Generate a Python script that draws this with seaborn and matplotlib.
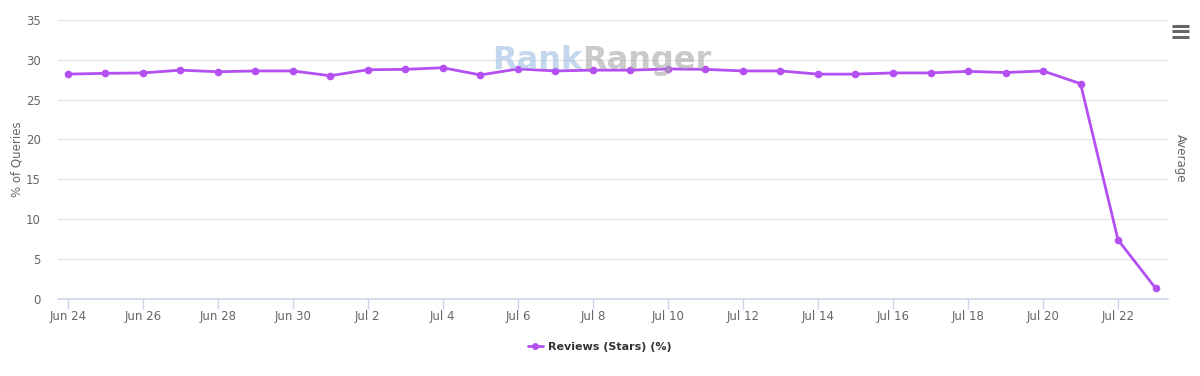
import matplotlib
matplotlib.use("Agg")
import matplotlib.pyplot as plt
import matplotlib.lines as mlines
import seaborn as sns
import pandas as pd
import numpy as np

# ---- data ----
dates = pd.date_range("2019-06-24", "2019-07-23", freq="D")
reviews_pct = [28.2, 28.3, 28.35, 28.7, 28.5, 28.6, 28.6, 28.0, 28.75, 28.8,
               29.0, 28.1, 28.85, 28.6, 28.7, 28.7, 28.85, 28.8, 28.6, 28.6,
               28.2, 28.2, 28.35, 28.35, 28.55, 28.4, 28.6, 27.0, 7.4, 1.35]
series_name = "Reviews (Stars) (%)"
y_ticks = [0, 5, 10, 15, 20, 25, 30, 35]

df = pd.DataFrame({"date": dates, "value": reviews_pct, "series": series_name})

sns.set_theme(style="white")
plt.rcParams["font.family"] = ["DejaVu Sans"]

LINE = "#b44ff2"
GRID = "#e6e6e6"
AXIS = "#ccd6eb"
TXT = "#666666"

fig = plt.figure(figsize=(12, 3.76), dpi=100)
ax = fig.add_axes([0.048, 0.205, 0.925, 0.742])

sns.lineplot(data=df, x="date", y="value", ax=ax, color=LINE, linewidth=2,
             marker="o", markersize=5.5, markeredgewidth=0, legend=False)

ax.set_ylim(0, 35)
ax.set_yticks(y_ticks)
ax.set_xlim(dates[0] - pd.Timedelta(hours=6.5), dates[-1] + pd.Timedelta(hours=7.7))
tick_dates = dates[::2]
ax.set_xticks(tick_dates)
ax.set_xticklabels([d.strftime("%b ") + str(d.day) for d in tick_dates])

ax.grid(axis="y", color=GRID, linewidth=1)
ax.grid(axis="x", visible=False)
for s in ["top", "right", "left"]:
    ax.spines[s].set_visible(False)
ax.spines["bottom"].set_color(AXIS)
ax.spines["bottom"].set_linewidth(1.2)
ax.tick_params(axis="x", bottom=True, labelcolor=TXT, color=AXIS, labelsize=8.5,
               length=7, width=1, direction="out", pad=1)
ax.tick_params(axis="y", left=False, labelcolor=TXT, labelsize=8.5, length=0, pad=12)
ax.set_xlabel("")
ax.set_ylabel("% of Queries", color=TXT, fontsize=8.5, labelpad=2)

# right-side axis title
fig.text(0.984, 0.58, "Average", rotation=-90, color=TXT, fontsize=8.5,
         ha="center", va="center")

# watermark
fig.text(0.485, 0.84, "Rank", color="#9dbde3", alpha=0.6, fontsize=23,
         fontweight="bold", ha="right", va="center")
fig.text(0.485, 0.84, "Ranger", color="#a8a8a8", alpha=0.6, fontsize=23,
         fontweight="bold", ha="left", va="center")

# hamburger menu icon
for yy in [0.931, 0.917, 0.902]:
    fig.add_artist(mlines.Line2D([0.977, 0.991], [yy, yy], color="#666666",
                                 linewidth=2.2, solid_capstyle="butt"))

# legend
handle = mlines.Line2D([], [], color=LINE, linewidth=2, marker="o",
                       markersize=5, markeredgewidth=0)
leg = fig.legend([handle], [series_name], loc="center", bbox_to_anchor=(0.5, 0.078),
                 frameon=False, handlelength=1.3, handletextpad=0.5,
                 prop={"weight": "bold", "size": 8})
for t in leg.get_texts():
    t.set_color("#333333")

fig.savefig("out.png", dpi=100)
